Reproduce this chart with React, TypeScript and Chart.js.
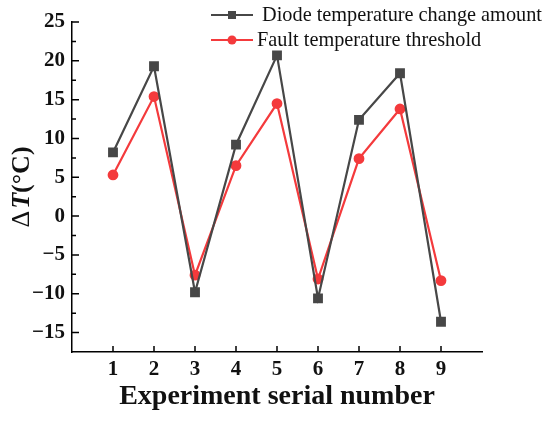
import React, { useEffect, useRef } from "react";
import { Chart, registerables } from "chart.js";

Chart.register(...registerables);

const experiments = [1, 2, 3, 4, 5, 6, 7, 8, 9];
const diodeChange = [8.2, 19.3, -9.8, 9.2, 20.7, -10.6, 12.4, 18.4, -13.6];
const faultThreshold = [5.3, 15.4, -7.6, 6.5, 14.5, -8.1, 7.4, 13.8, -8.3];
const yTicks = [-15, -10, -5, 0, 5, 10, 15, 20, 25];
const yMinorTicks = [-12.5, -7.5, -2.5, 2.5, 7.5, 12.5, 17.5, 22.5];
const seriesLabels = [" Diode temperature change amount", "Fault temperature threshold"];
const xTitle = "Experiment serial number";
const yTitleParts = ["\u0394", "T", "(\u00B0C)"];

const SERIF = "'Liberation Serif', 'Times New Roman', serif";
const GRAY = "#474747";
const RED = "#f43a3c";

const insideTicks = {
  id: "insideTicks",
  beforeDatasetsDraw(chart: any) {
    const { ctx, chartArea, scales } = chart;
    const x = scales.x;
    const y = scales.y;
    ctx.save();
    ctx.strokeStyle = "#000";
    ctx.lineWidth = 1.5;
    ctx.beginPath();
    yTicks.forEach((v) => {
      const py = y.getPixelForValue(v);
      ctx.moveTo(chartArea.left, py);
      ctx.lineTo(chartArea.left + 7, py);
    });
    yMinorTicks.forEach((v) => {
      const py = y.getPixelForValue(v);
      ctx.moveTo(chartArea.left, py);
      ctx.lineTo(chartArea.left + 4, py);
    });
    experiments.forEach((v) => {
      const px = x.getPixelForValue(v);
      ctx.moveTo(px, chartArea.bottom);
      ctx.lineTo(px, chartArea.bottom - 6);
    });
    ctx.stroke();
    ctx.restore();
  },
};

const customLegend = {
  id: "customLegend",
  afterDraw(chart: any) {
    const { ctx } = chart;
    const rows = [15, 40];
    ctx.save();
    chart.data.datasets.forEach((ds: any, i: number) => {
      const yy = rows[i];
      ctx.strokeStyle = ds.borderColor;
      ctx.lineWidth = 2.2;
      ctx.beginPath();
      ctx.moveTo(211, yy);
      ctx.lineTo(253, yy);
      ctx.stroke();
      ctx.fillStyle = ds.pointBackgroundColor;
      if (ds.pointStyle === "rect") {
        ctx.fillRect(232 - 4, yy - 4, 8, 8);
      } else {
        ctx.beginPath();
        ctx.arc(232, yy, 4.5, 0, Math.PI * 2);
        ctx.fill();
      }
      ctx.fillStyle = "#111";
      ctx.font = `20.3px ${SERIF}`;
      ctx.textAlign = "left";
      ctx.textBaseline = "middle";
      ctx.fillText(ds.label, 257, yy + 1);
    });
    ctx.restore();
  },
};

const yTitle = {
  id: "yTitle",
  afterDraw(chart: any) {
    const { ctx } = chart;
    ctx.save();
    ctx.translate(22, 188);
    ctx.rotate(-Math.PI / 2);
    ctx.fillStyle = "#111";
    ctx.textBaseline = "middle";
    ctx.textAlign = "left";
    const fonts = [`26px ${SERIF}`, `italic bold 26px ${SERIF}`, `bold 26px ${SERIF}`];
    let total = 0;
    const widths = yTitleParts.map((t, i) => {
      ctx.font = fonts[i];
      const w = ctx.measureText(t).width;
      total += w;
      return w;
    });
    let cx = -total / 2;
    yTitleParts.forEach((t, i) => {
      ctx.font = fonts[i];
      ctx.fillText(t, cx, 0);
      cx += widths[i] + (i === 0 ? 2 : 0);
    });
    ctx.restore();
  },
};

export default function App() {
  const ref = useRef<HTMLCanvasElement | null>(null);
  useEffect(() => {
    if (!ref.current) return;
    const chart = new Chart(ref.current, {
      type: "line",
      data: {
        datasets: [
          {
            label: seriesLabels[0],
            data: experiments.map((e, i) => ({ x: e, y: diodeChange[i] })),
            borderColor: GRAY,
            backgroundColor: GRAY,
            pointBackgroundColor: GRAY,
            pointBorderColor: GRAY,
            pointStyle: "rect",
            pointRadius: 5.4,
            borderWidth: 2.2,
          },
          {
            label: seriesLabels[1],
            data: experiments.map((e, i) => ({ x: e, y: faultThreshold[i] })),
            borderColor: RED,
            backgroundColor: RED,
            pointBackgroundColor: RED,
            pointBorderColor: RED,
            pointStyle: "circle",
            pointRadius: 4.3,
            borderWidth: 2.2,
          },
        ],
      },
      options: {
        animation: false,
        responsive: false,
        devicePixelRatio: 1,
        layout: { padding: { top: 22, right: 68, bottom: 0, left: 0 } },
        plugins: { legend: { display: false }, tooltip: { enabled: false } },
        scales: {
          x: {
            type: "linear",
            min: 0,
            max: 10,
            afterBuildTicks: (s: any) => {
              s.ticks = experiments.map((v) => ({ value: v }));
            },
            afterFit: (s: any) => {
              s.height = 69;
            },
            grid: { display: false, drawTicks: false },
            border: { display: true, color: "#000", width: 1.5 },
            ticks: {
              color: "#111",
              padding: 5,
              maxRotation: 0,
              font: { family: SERIF, size: 21, weight: "bold" },
            },
            title: {
              display: true,
              text: xTitle,
              color: "#111",
              padding: { top: 0, bottom: 7 },
              font: { family: SERIF, size: 28, weight: "bold" },
            },
          },
          y: {
            type: "linear",
            min: -17.5,
            max: 25,
            afterBuildTicks: (s: any) => {
              s.ticks = yTicks.map((v) => ({ value: v }));
            },
            afterFit: (s: any) => {
              s.width = 72;
            },
            grid: { display: false, drawTicks: false },
            border: { display: true, color: "#000", width: 1.5 },
            ticks: {
              color: "#111",
              padding: 7,
              font: { family: SERIF, size: 21, weight: "bold" },
              callback: (v: any) => String(v).replace("-", "\u2212"),
            },
          },
        },
      },
      plugins: [insideTicks, customLegend, yTitle],
    });
    return () => chart.destroy();
  }, []);
  return (
    <div style={{ position: "fixed", left: 0, top: 0, width: 550, height: 421, background: "#fff" }}>
      <canvas ref={ref} width={550} height={421} style={{ width: 550, height: 421, display: "block" }} />
    </div>
  );
}
